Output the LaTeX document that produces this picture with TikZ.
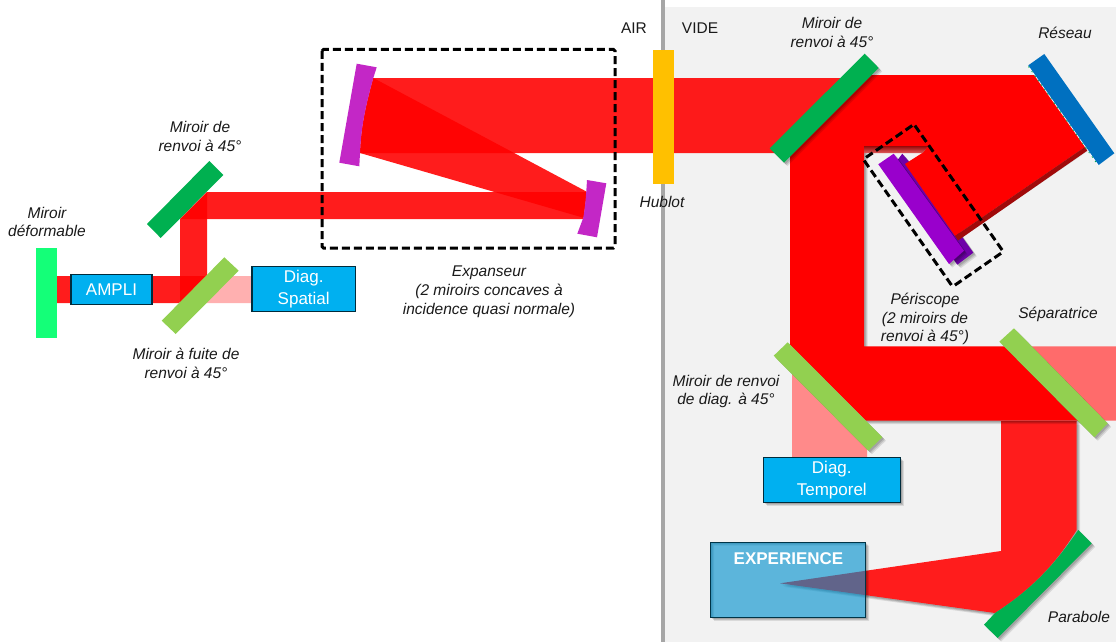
\documentclass[tikz,border=0pt]{standalone}
\usepackage{fontspec}
\setmainfont{Liberation Sans}
\definecolor{beam}{HTML}{FF1C1C}
\definecolor{mgreen}{HTML}{00B050}
\definecolor{lgreen}{HTML}{92D050}
\definecolor{boxblue}{HTML}{00B0F0}
\definecolor{mauve}{HTML}{C327C6}
\definecolor{violet1}{HTML}{9900CC}
\definecolor{violet2}{HTML}{6F00A8}
\definecolor{pale}{HTML}{F2F2F2}
\definecolor{txt}{HTML}{1A1A1A}
\tikzset{
  x=1pt,y=-1pt,
  softshadow/.style={
    preaction={fill=black,fill opacity=.10,draw=none,transform canvas={shift={(3.5pt,-3.5pt)}}},
    preaction={fill=black,fill opacity=.12,draw=none,transform canvas={shift={(2.5pt,-2.5pt)}}},
    preaction={fill=black,fill opacity=.14,draw=none,transform canvas={shift={(1.5pt,-1.5pt)}}}},
  rayon/.style={fill=red,fill opacity=.89,draw=none},
  pure/.style={fill=red,draw=none},
  dashbox/.style={draw=black,line width=3pt,dash pattern=on 8pt off 4pt,rounded corners=1.5pt},
  lab/.style={font=\fontsize{15.5}{18.8}\selectfont\itshape,text=txt,align=center,inner sep=0pt},
  plain/.style={font=\fontsize{15.5}{18.8}\selectfont,text=txt,inner sep=0pt},
  diag/.style={draw=black!75!boxblue,line width=1.1pt,fill=boxblue,text=white,align=center,inner sep=0pt,font=\fontsize{17}{21.5}\selectfont}
}
\begin{document}
\begin{tikzpicture}
\useasboundingbox (0,0) rectangle (1116,642);
\fill[white] (0,0) rectangle (1116,642);
% vacuum side
\fill[pale] (664,7) rectangle (1116,642);
\fill[black!35] (661,0) rectangle (664.5,642);

% ---------- left part: beams
\fill[rayon] (57,276) -- (206,276) -- (179,303) -- (57,303) -- cycle;
\fill[rayon] (180,219) -- (207,192) -- (207,276) -- (180,303) -- cycle;
\fill[rayon] (180,219) -- (207,192) -- (587,192) -- (583.5,219) -- cycle;
\fill[fill=red,fill opacity=.31] (207,276) -- (252,276) -- (252,303) -- (180,303) -- cycle;
% expander beams
\fill[rayon] (373.3,78) -- (850,78) -- (778,153) -- (360,153) .. controls (361,128) and (365,108) .. cycle;
\fill[rayon] (373.3,78) -- (586.7,191.7) -- (583.3,217.7) -- (360,153) .. controls (361,128) and (365,108) .. cycle;

% ---------- mirrors (left)
\node[minimum width=21pt,minimum height=90pt,inner sep=0pt,fill={rgb,255:red,20;green,255;blue,120}] (defm) at (46.5,293) {};
\fill[lgreen] (224.3,257.3) -- (238.7,270.7) -- (175.7,334) -- (161.7,320.7) -- cycle;
\fill[mgreen] (209.3,161) -- (223.3,175) -- (160.7,238) -- (147,224) -- cycle;
\fill[mauve] (356.7,63.7) -- (376.7,67.3) -- (373.3,78) .. controls (365,108) and (361,128) .. (360,153) -- (359.3,166.3) -- (339.3,162.7) -- cycle;
\fill[mauve] (587,180) -- (606.3,183.3) -- (597,237.3) -- (577.3,233.7) -- (583.3,217.7) .. controls (585,208) and (586,198) .. cycle;
\node[diag,minimum width=81pt,minimum height=30pt] (ampli) at (111.5,289.7) {AMPLI};
\node[diag,minimum width=103.5pt,minimum height=44.5pt] (spatial) at (303.7,289) {Diag.\\Spatial};
\draw[dashbox] (322,49.5) rectangle (615,248);

% ---------- right part: pale beams
\fill[fill={rgb,255:red,255;green,107;blue,107}] (1004,346.3) -- (1116,346.3) -- (1116,420.7) -- (1078,420.7) -- cycle;
\fill[fill={rgb,255:red,255;green,138;blue,138}] (792,360) -- (867,435) -- (867,458) -- (792,458) -- cycle;

% rear periscope mirror
\fill[violet2,softshadow] (902.3,153.7) -- (909.3,162) -- (973.3,252.7) -- (957.3,264.7) -- (890,170) -- cycle;

% down beam to the parabola, focused on the experiment
\fill[beam,softshadow] (1001,421) -- (1076.7,421) -- (1076.7,530)
   .. controls (1060,556) and (1040,584) .. (995,613) -- (780,583.3) -- (1001,551) -- cycle;
% main beam
\fill[pure,softshadow] (871.7,75) -- (1035,75) -- (1085,147) -- (955,236) -- (905,164) -- (922.7,152.7) -- (928,146) -- (864,146)
   -- (864,346.3) -- (1004,346.3) -- (1078,420.7) -- (866,420.7) -- (790,344.6) -- (790,156.7) -- cycle;
% shadow bands of the compressed beam
\fill[fill={rgb,255:red,160;green,10;blue,10}] (1085,147) -- (1087.5,150.5) -- (958,240.5) -- (955,236) -- cycle;
\shade[top color={rgb,255:red,150;green,10;blue,10},bottom color={rgb,255:red,225;green,90;blue,90}] (864,146) -- (928,146) -- (922.7,153) -- (864,153) -- cycle;

% ---------- right part: optics
\fill[violet1,softshadow] (893.7,153.7) -- (964,250.7) -- (949,264) -- (878.3,164.3) -- cycle;
\fill[mgreen,softshadow] (864.7,53.7) -- (878.7,68) -- (784,162.7) -- (769.7,148.3) -- cycle;
\fill[lgreen,softshadow] (787.7,342.3) -- (882.3,437.3) -- (868.3,450.7) -- (773.7,355.7) -- cycle;
\fill[lgreen,softshadow] (1014,328.3) -- (1107.7,423.3) -- (1094.3,437.3) -- (999.3,341.7) -- cycle;
\draw[white,line width=1.6pt] (1028.8,66) -- (1098.2,164.3);
\draw[mgreen,line width=.8pt,dash pattern=on 1.5pt off 4pt] (1028.4,66.5) -- (1097.8,164.8);
\fill[fill={rgb,255:red,0;green,112;blue,192}] (1044.3,54) -- (1114.3,153.3) -- (1098.7,165) -- (1028.3,65.3) -- cycle;
\fill[mgreen,softshadow] (1078.3,530) -- (1091.7,543.3) -- (997.7,638) -- (984,624.7) -- (995,613)
   .. controls (1040,584) and (1060,556) .. cycle;
\fill[fill={rgb,255:red,255;green,192;blue,0}] (653,50) rectangle (674,184);
\draw[dashbox] (914,124.3) -- (1003.3,251.7) -- (952.6,286.7) -- (863.3,159.3) -- cycle;

\node[diag,softshadow,minimum width=137pt,minimum height=44.5pt] (temporel) at (831.8,480) {Diag.\\Temporel};
% shadow of the translucent box, outside the box only
\fill[black,fill opacity=.10,even odd rule] (710.7,542) rectangle (865.7,617.3) (714.2,545.5) rectangle (869.2,620.8);
\fill[black,fill opacity=.12,even odd rule] (710.7,542) rectangle (865.7,617.3) (713.2,544.5) rectangle (868.2,619.8);
\fill[black,fill opacity=.14,even odd rule] (710.7,542) rectangle (865.7,617.3) (712.2,543.5) rectangle (867.2,618.8);
\node[draw=black!70!boxblue,line width=1pt,fill={rgb,255:red,0;green,145;blue,206},fill opacity=.62,minimum width=155pt,minimum height=75.3pt,inner sep=0pt] (exp) at (788.2,579.7) {};
\node[font=\fontsize{17}{20}\selectfont\bfseries,text=white,inner sep=0pt] (exptxt) at (788.5,559) {EXPERIENCE};

% ---------- labels
\node[lab] (l1) at (47,222) {Miroir\\déformable};
\node[lab] (l2) at (200,136.5) {Miroir de\\renvoi à 45°};
\node[lab] (l3) at (186,363) {Miroir à fuite de\\renvoi à 45°};
\node[lab] (l4) at (489,291.5) {Expanseur\\(2 miroirs concaves à\\incidence quasi normale)};
\node[lab] (l5) at (662,202) {Hublot};
\node[plain] (air) at (634,28) {AIR};
\node[plain] (vide) at (700,28) {VIDE};
\node[lab] (l6) at (832,32.5) {Miroir de\\renvoi à 45°};
\node[lab] (l7) at (1065,33) {Réseau};
\node[lab] (l8) at (925,319) {Périscope\\(2 miroirs de\\renvoi à 45°)};
\node[lab] (l9) at (1058,314) {Séparatrice};
\node[lab] (l10) at (726,391.5) {Miroir de renvoi\\de diag. à 45°};
\node[lab] (l11) at (1079,617) {Parabole};
\end{tikzpicture}
\end{document}
